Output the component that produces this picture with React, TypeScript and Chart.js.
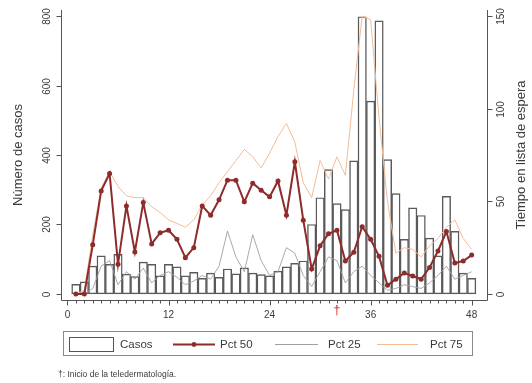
import React, { useEffect, useRef } from 'react';
import { Chart, registerables } from 'chart.js';

Chart.register(...registerables);

// ---- Data ----
const weeks = [1,2,3,4,5,6,7,8,9,10,11,12,13,14,15,16,17,18,19,20,21,22,23,24,25,26,27,28,29,30,31,32,33,34,35,36,37,38,39,40,41,42,43,44,45,46,47,48];
const casos = [28,35,80,110,85,114,57,50,92,85,52,85,78,52,62,45,60,48,72,58,75,60,56,52,66,78,88,95,200,277,358,260,243,383,798,555,786,387,289,157,248,226,161,110,281,180,60,45];
const pct50 = [0,0,26.5,55.6,65,16,47.5,22.7,49.3,27,33,34.4,29.5,19.6,25,47.5,42.5,50.8,61.4,61.4,49.7,59.8,56,52.4,61,42.5,71.3,39.8,13.5,26,32.5,34.4,17.8,22.5,36.3,29.5,20.3,4.7,8,11.3,9.7,8,14.3,23.2,33.7,16.7,17.8,21];
const pct25 = [0,0,3,15,18,5,12,8,14,6,10,12,9,5,7,10,8,15,34,20,12,32,18,10,12,25,22,10,4,12,20,18,6,12,15,10,6,2,3,5,4,3,6,10,15,8,10,12];
const pct75 = [0,2,32,57,66,58,53,52,52,47,44,40,38,36,40,48,53,60,66,72,78,74,68,76,85,92,82,60,52,72,62,74,64,110,150,148,95,50,22,25,24,20,26,30,36,40,30,24];
const xTickLabels = [0,12,24,36,48];
const yLeftTicks = [0,200,400,600,800];
const yRightTicks = [0,50,100,150];
const markWeek = 32;

const TEXT = '#3a3a3a';
const AXIS = '#555555';
const C50 = '#8e2b2b';
const C25 = '#a0a0a0';
const C75 = '#f4bc96';
const FONT = '"Liberation Sans", Arial, sans-serif';

const decorPlugin = {
  id: 'decor',
  afterDraw(chart: any) {
    const ctx = chart.ctx as CanvasRenderingContext2D;
    const { left, right, top, bottom } = chart.chartArea;
    const xs = chart.scales.x;
    const yl = chart.scales.y;
    const yr = chart.scales.y1;
    ctx.save();
    ctx.strokeStyle = AXIS;
    ctx.lineWidth = 1;
    const L = Math.round(left) + 0.5;
    const R = Math.round(right) + 0.5;
    const B = Math.round(bottom) + 0.5;
    ctx.beginPath();
    ctx.moveTo(L, top); ctx.lineTo(L, B);
    ctx.moveTo(R, top); ctx.lineTo(R, B);
    ctx.moveTo(L, B); ctx.lineTo(R, B);
    ctx.stroke();

    ctx.fillStyle = TEXT;
    ctx.font = `10px ${FONT}`;
    ctx.textAlign = 'center';
    ctx.textBaseline = 'middle';
    yLeftTicks.forEach((v) => {
      const y = Math.round(yl.getPixelForValue(v)) + 0.5;
      ctx.beginPath(); ctx.moveTo(L - 5, y); ctx.lineTo(L, y); ctx.stroke();
      ctx.save(); ctx.translate(47, y); ctx.rotate(-Math.PI / 2); ctx.fillText(String(v), 0, 0); ctx.restore();
    });
    yRightTicks.forEach((v) => {
      const y = Math.round(yr.getPixelForValue(v)) + 0.5;
      ctx.beginPath(); ctx.moveTo(R, y); ctx.lineTo(R + 5, y); ctx.stroke();
      ctx.save(); ctx.translate(501, y); ctx.rotate(-Math.PI / 2); ctx.fillText(String(v), 0, 0); ctx.restore();
    });
    for (let w = 0; w <= 48; w++) {
      const x = Math.round(xs.getPixelForValue(w)) + 0.5;
      const major = xTickLabels.includes(w);
      ctx.beginPath(); ctx.moveTo(x, B); ctx.lineTo(x, B + (major ? 5 : 3)); ctx.stroke();
    }
    xTickLabels.forEach((v) => {
      ctx.fillText(String(v), xs.getPixelForValue(v), 315);
    });
    ctx.fillStyle = '#d42a2a';
    ctx.font = `13px ${FONT}`;
    ctx.fillText('\u2020', xs.getPixelForValue(markWeek), 310);

    ctx.fillStyle = TEXT;
    ctx.font = `13px ${FONT}`;
    const midY = (top + bottom) / 2;
    ctx.save(); ctx.translate(18, midY); ctx.rotate(-Math.PI / 2); ctx.fillText('Número de casos', 0, 0); ctx.restore();
    ctx.save(); ctx.translate(521, midY); ctx.rotate(-Math.PI / 2); ctx.fillText('Tiempo en lista de espera', 0, 0); ctx.restore();

    ctx.strokeStyle = '#8a8a8a';
    ctx.strokeRect(63.5, 331.5, 409, 24);
    const ly = 344;
    ctx.strokeStyle = '#555';
    ctx.fillStyle = '#fff';
    ctx.fillRect(69.5, 337.5, 44, 14);
    ctx.strokeRect(69.5, 337.5, 44, 14);
    ctx.lineWidth = 2;
    ctx.strokeStyle = C50;
    ctx.beginPath(); ctx.moveTo(173, ly + 0.5); ctx.lineTo(215, ly + 0.5); ctx.stroke();
    ctx.fillStyle = C50;
    ctx.beginPath(); ctx.arc(194, ly + 0.5, 2.4, 0, Math.PI * 2); ctx.fill();
    ctx.lineWidth = 1;
    ctx.strokeStyle = C25;
    ctx.beginPath(); ctx.moveTo(275, ly + 0.5); ctx.lineTo(318, ly + 0.5); ctx.stroke();
    ctx.strokeStyle = C75;
    ctx.beginPath(); ctx.moveTo(377, ly + 0.5); ctx.lineTo(418, ly + 0.5); ctx.stroke();
    ctx.fillStyle = TEXT;
    ctx.font = `11.5px ${FONT}`;
    ctx.textAlign = 'left';
    ctx.fillText('Casos', 120, ly + 1);
    ctx.fillText('Pct 50', 220, ly + 1);
    ctx.fillText('Pct 25', 328, ly + 1);
    ctx.fillText('Pct 75', 430, ly + 1);

    ctx.font = `8.5px ${FONT}`;
    ctx.fillText('\u2020: Inicio de la teledermatología.', 58, 375);
    ctx.restore();
  },
};

export default function App() {
  const ref = useRef<HTMLCanvasElement | null>(null);
  useEffect(() => {
    if (!ref.current) return;
    const pts = (arr: number[]) => weeks.map((w, i) => ({ x: w, y: arr[i] }));
    const chart = new Chart(ref.current, {
      type: 'bar',
      data: {
        datasets: [
          {
            type: 'bar', label: 'Casos', data: pts(casos), yAxisID: 'y',
            backgroundColor: 'rgba(255,255,255,0)', borderColor: '#5a5a5a', borderWidth: 0.8,
            borderSkipped: false, barPercentage: 1, categoryPercentage: 1, order: 4,
          } as any,
          {
            type: 'line', label: 'Pct 75', data: pts(pct75), yAxisID: 'y1',
            borderColor: C75, borderWidth: 1, pointRadius: 0, order: 3,
          } as any,
          {
            type: 'line', label: 'Pct 25', data: pts(pct25), yAxisID: 'y1',
            borderColor: C25, borderWidth: 0.9, pointRadius: 0, order: 2,
          } as any,
          {
            type: 'line', label: 'Pct 50', data: pts(pct50), yAxisID: 'y1',
            borderColor: C50, borderWidth: 2, pointRadius: 2.5,
            pointBackgroundColor: C50, pointBorderColor: C50, pointBorderWidth: 0, order: 1,
          } as any,
        ],
      },
      options: {
        responsive: false,
        animation: false,
        devicePixelRatio: 1,
        layout: { padding: { top: 10, left: 0, right: 0, bottom: 0 } },
        plugins: { legend: { display: false }, tooltip: { enabled: false } },
        scales: {
          x: {
            type: 'linear', min: -0.77, max: 49.82, offset: false,
            grid: { display: false }, border: { display: false }, ticks: { display: false },
            afterFit: (s: any) => { s.height = 83; },
          },
          y: {
            position: 'left', min: -17.3, max: 817.3,
            grid: { display: false }, border: { display: false }, ticks: { display: false },
            afterFit: (s: any) => { s.width = 61; },
          },
          y1: {
            position: 'right', min: -3.24, max: 153.2,
            grid: { display: false }, border: { display: false }, ticks: { display: false },
            afterFit: (s: any) => { s.width = 45; },
          },
        },
      } as any,
      plugins: [decorPlugin],
    });
    return () => chart.destroy();
  }, []);
  return (
    <div style={{ position: 'fixed', left: 0, top: 0, width: 532, height: 383, background: '#fff' }}>
      <canvas ref={ref} width={532} height={383} style={{ display: 'block', width: 532, height: 383 }} />
    </div>
  );
}
